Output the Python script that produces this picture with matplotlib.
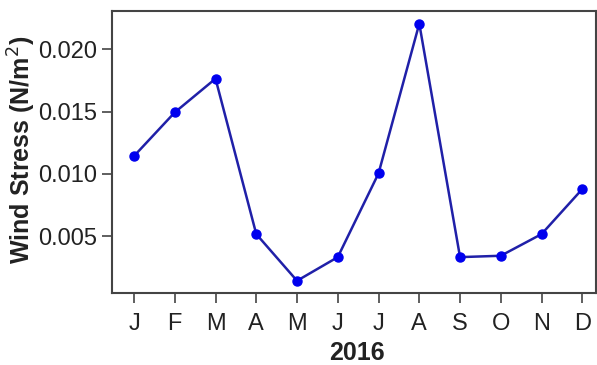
import matplotlib
matplotlib.use('Agg')
import matplotlib.pyplot as plt

months = ['J', 'F', 'M', 'A', 'M', 'J', 'J', 'A', 'S', 'O', 'N', 'D']
month_num = list(range(1, 13))
wind_stress = [0.01143, 0.01494, 0.01765, 0.00516, 0.00141, 0.00331,
               0.01004, 0.02207, 0.00331, 0.00342, 0.00516, 0.00878]
yticks = [0.005, 0.010, 0.015, 0.020]

fig = plt.figure(figsize=(5.97, 3.65), dpi=100)
ax = fig.add_axes([0.1876, 0.197, 0.811, 0.773])

ax.plot(month_num, wind_stress, color='#2020a8', lw=1.8, zorder=2)
ax.plot(month_num, wind_stress, 'o', color='#0000ee', ms=6.5, zorder=3)

ax.set_xlim(0.46, 12.34)
ax.set_ylim(0.00042, 0.02309)
ax.set_xticks(month_num)
ax.set_xticklabels(months)
ax.set_yticks(yticks)
ax.set_yticklabels(['%.3f' % v for v in yticks])

for lab in ax.get_xticklabels() + ax.get_yticklabels():
    lab.set_fontfamily('Liberation Sans')
    lab.set_fontsize(17)
    lab.set_color('#222222')

ax.tick_params(direction='out', length=7, width=1.2, color='#444444')
ax.tick_params(axis='x', pad=7)
ax.tick_params(axis='y', pad=3.5)
for s in ax.spines.values():
    s.set_color('#444444')
    s.set_linewidth(1.5)

ax.set_ylabel('Wind Stress (N/m$^2$)', fontsize=18, fontweight='bold',
              family='Liberation Sans', color='#222222')
ax.yaxis.set_label_coords(-0.152, 0.507)
ax.set_xlabel('2016', fontsize=18, fontweight='bold', family='Liberation Sans',
              color='#222222')
ax.xaxis.set_label_coords(0.506, -0.17)

fig.savefig('out.png', dpi=100)
